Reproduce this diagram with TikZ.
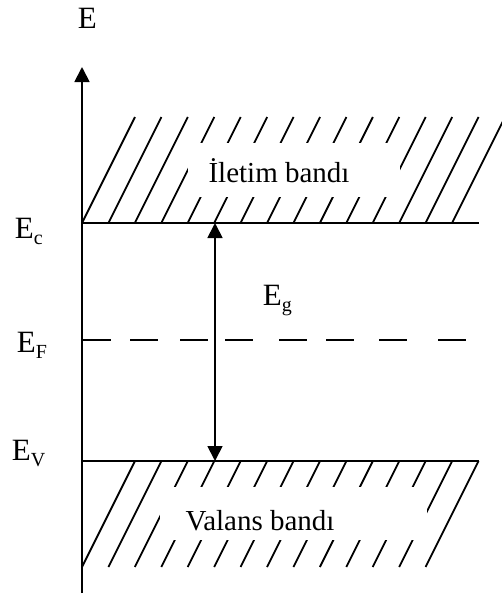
\documentclass[tikz,border=0pt]{standalone}
\usepackage{fontspec}
\setmainfont{Liberation Serif}
\usetikzlibrary{arrows.meta}
\newcommand{\lvl}[1]{E\raisebox{-6pt}{\fontsize{20}{20}\selectfont #1}}

\begin{document}
\begin{tikzpicture}[x=1pt,y=-1pt,line width=1.8pt,
  every node/.style={font=\fontsize{29}{34}\selectfont, inner sep=0pt},
  levellbl/.style={anchor=base west, font=\fontsize{31}{36}\selectfont},
  axisarrow/.style={-{Triangle[length=15pt,width=15pt]}},
  gaparrow/.style={{Triangle[length=15pt,width=15pt]}-{Triangle[length=15pt,width=15pt]}}]
\clip (0,0) rectangle (502,595);
\def\gap{26.43}
% axis and band edges
\coordinate (axbot) at (82,593);
\coordinate (axtop) at (82,67);
\coordinate (ecl) at (82,223);
\coordinate (ecr) at (479,223);
\coordinate (evl) at (82,461);
\coordinate (evr) at (479,461);
\coordinate (egtop) at (215,223);
\coordinate (egbot) at (215,461);
% hatching
\foreach \k in {0,...,14}
  \draw (82+\k*\gap,223) -- ++(53,-106);
\foreach \k in {0,...,13}
  \draw (135+\k*\gap,461) -- ++(-53,106);
\fill[white] (188,143) rectangle (400,197);
\fill[white] (160,487) rectangle (427,540);
\draw[axisarrow] (axbot) -- (axtop);
\draw (ecl) -- (ecr);
\draw (evl) -- (evr);
\draw[gaparrow] (egtop) -- (egbot);
% Fermi level
\foreach \xs in {83,130,180,225,279,326,379,438}
  \draw (\xs,340) -- ++(28,0);
% labels
\node[levellbl] (lblE) at (77,28) {E};
\node[levellbl] (lblEc) at (14,238) {\lvl{c}};
\node[levellbl] (lblEF) at (16,352) {\lvl{F}};
\node[levellbl] (lblEv) at (11,460) {\lvl{V}};
\node[levellbl] (lblEg) at (262,305) {\lvl{g}};
\node[anchor=base] (iletim) at (279,182) {İletim bandı};
\node[anchor=base] (valans) at (260,530) {Valans bandı};
\end{tikzpicture}
\end{document}
